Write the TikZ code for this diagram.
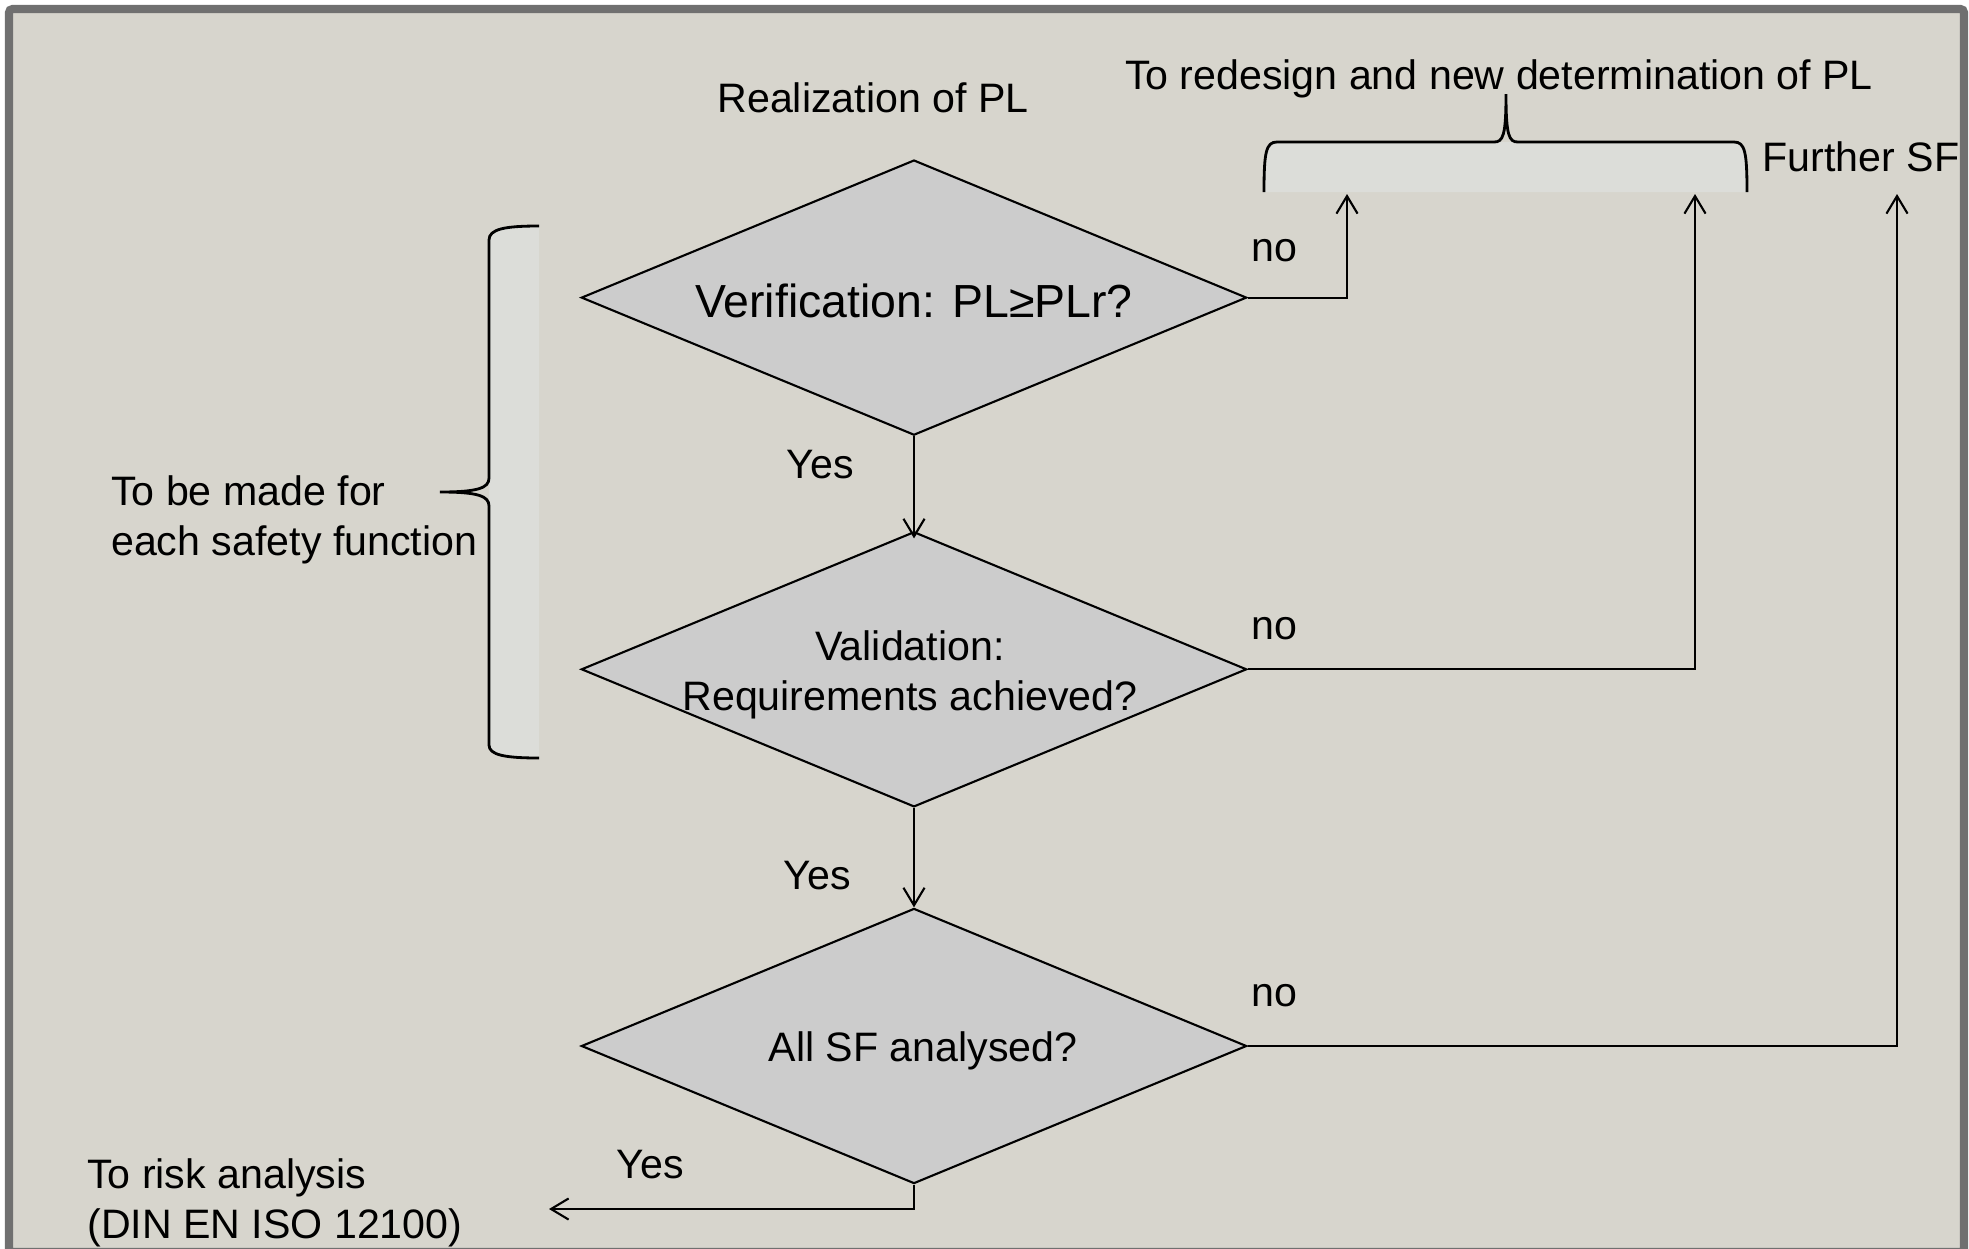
\documentclass[tikz,border=0pt]{standalone}
\usepackage{fontspec}
\setmainfont{Liberation Sans}
\usetikzlibrary{shapes.geometric,arrows.meta}
\definecolor{bgc}{HTML}{D7D5CD}
\definecolor{diac}{HTML}{CCCCCC}
\definecolor{bracec}{HTML}{DCDDD9}
\definecolor{framec}{HTML}{707070}
\begin{document}
\begin{tikzpicture}[x=0.01cm,y=-0.01cm,
  every node/.style={font=\fontsize{11.7}{14.2}\selectfont, inner sep=0pt},
  dia/.style={diamond, draw=black, fill=diac, line width=0.6pt, shape aspect=2.42,
    minimum width=6.65cm, minimum height=2.75cm, inner sep=0pt},
  conn/.style={line width=0.6pt, draw=black},
  arr/.style={conn, -{Straight Barb[length=5pt,width=6pt]}},
  bracefill/.style={fill=bracec, draw=none},
  braceline/.style={line width=0.8pt, draw=black},
  lbl/.style={align=center},
  lblleft/.style={align=left, anchor=west}]
\useasboundingbox (0,0) rectangle (1969,1248);
\fill[white] (0,0) rectangle (1969,1248);
\draw[fill=bgc, draw=framec, line width=2.3pt, rounded corners=1pt] (9,9) rectangle (1964,1252);

% diamonds
\node[dia] (ver) at (914,297.6) {};
\node[dia] (val) at (914,669.3) {};
\node[dia] (all) at (914,1046) {};
\node[lbl, font=\fontsize{13.2}{16}\selectfont] (vert) at (914,301) {Verification: PL≥PLr?};
\node[lbl] (valt) at (910,675) {Validation:\\Requirements achieved?};
\node[lbl] (allt) at (923,1051) {All SF analysed?};

% coordinates for free ends
\coordinate (c1) at (1347,194);
\coordinate (c2) at (1695,194);
\coordinate (c3) at (1897,194);
\coordinate (c4) at (549,1209);

% braces (fills)
\path[bracefill] (1264,192) .. controls (1264,152) and (1266,142) .. (1277,142) -- (1734,142) .. controls (1745,142) and (1747,152) .. (1747,192) -- cycle;
\path[bracefill] (539,226) .. controls (505,226) and (489,229) .. (489,240) -- (489,745) .. controls (489,755) and (505,758) .. (539,758) -- cycle;

% connectors
\draw[arr] (ver.south) -- ([yshift=-2.2pt]val.north);
\draw[arr] (val.south) -- (all.north);
\draw[arr] (ver.east) -| (c1);
\draw[arr] (val.east) -| (c2);
\draw[arr] (all.east) -| (c3);
\draw[arr] (all.south) |- (c4);

% brace lines
\draw[braceline] (1264,192) .. controls (1264,152) and (1266,142) .. (1277,142) -- (1494,142) .. controls (1503,142) and (1506,136) .. (1506,94) .. controls (1506,136) and (1509,142) .. (1518,142) -- (1734,142) .. controls (1745,142) and (1747,152) .. (1747,192);
\draw[braceline] (539,226) .. controls (505,226) and (489,229) .. (489,240) -- (489,478) .. controls (489,488) and (478,492) .. (440,492) .. controls (478,492) and (489,496) .. (489,506) -- (489,745) .. controls (489,755) and (505,758) .. (539,758);

% labels
\node[lbl] (real) at (873,98) {Realization of PL};
\node[lbl] (redes) at (1499,79) {To redesign and new determination of PL};
\node[lblleft] (further) at (1762,157) {Further SF};
\node[lbl] (no1) at (1274.5,251) {no};
\node[lbl] (no2) at (1274.5,629) {no};
\node[lbl] (no3) at (1274.5,996) {no};
\node[lbl] (yes1) at (820,465) {Yes};
\node[lbl] (yes2) at (817.5,876) {Yes};
\node[lbl] (yes3) at (650.5,1165) {Yes};
\node[lblleft] (each) at (110.5,520) {To be made for\\each safety function};
\node[lblleft] (risk) at (86.6,1203) {To risk analysis\\(DIN EN ISO 12100)};
\end{tikzpicture}
\end{document}
